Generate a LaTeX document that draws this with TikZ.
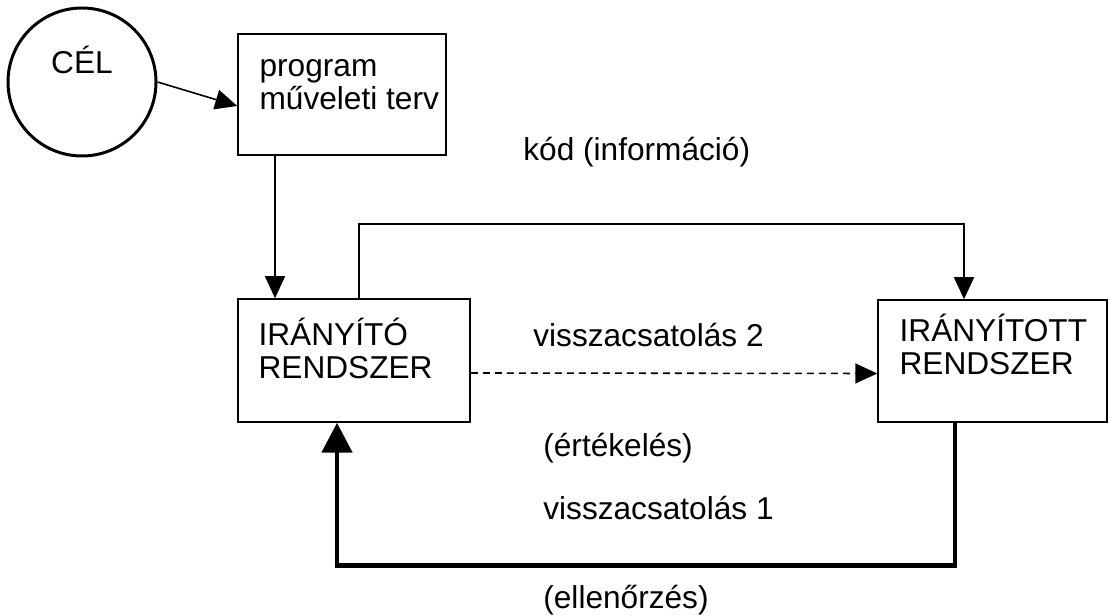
\documentclass[tikz,border=0pt]{standalone}
\usepackage{fontspec}
\setmainfont{Liberation Sans}
\usetikzlibrary{arrows.meta}

\begin{document}
\begin{tikzpicture}[>={Triangle[length=0.44cm,width=0.4cm]},
    every node/.style={font=\fontsize{18}{18.7}\selectfont},
    box/.style={draw,line width=0.85pt,inner sep=0pt},
    txt/.style={anchor=base west,align=left,inner sep=0pt},
    link/.style={->,line width=0.9pt},
    fback/.style={-{Triangle[length=0.6cm,width=0.6cm]},line width=2.8pt}]
    \useasboundingbox (0,0) rectangle (22.18,12.3);
    % nodes
    \node[circle,draw,line width=1.7pt,minimum size=2.96cm,inner sep=0pt,
      label={[yshift=0.44cm]center:CÉL}] (goal) at (1.64,10.66) {};
    \node[box,minimum width=4.16cm,minimum height=2.42cm] (plan) at (6.84,10.41) {};
    \node[box,minimum width=4.64cm,minimum height=2.46cm] (ctrl) at (7.08,5.09) {};
    \node[box,minimum width=4.58cm,minimum height=2.44cm] (plant) at (19.85,5.08) {};
    \node[txt] (plantxt) at ([shift={(0.44,-1.52)}]plan.north west) {program\\műveleti terv};
    \node[txt] (ctrltxt) at ([shift={(0.42,-1.6)}]ctrl.north west) {IRÁNYÍTÓ\\RENDSZER};
    \node[txt] (planttxt) at ([shift={(0.44,-1.5)}]plant.north west) {IRÁNYÍTOTT\\RENDSZER};
    % labels
    \node[txt] (code) at (10.46,9.09) {kód (információ)};
    \node[txt] (fb2) at (10.66,5.36) {visszacsatolás 2};
    \node[txt] (eval) at (10.86,3.16) {(értékelés)};
    \node[txt] (fb1) at (10.86,1.9) {visszacsatolás 1};
    \node[txt] (check) at (10.86,0.14) {(ellenőrzés)};
    % connectors
    \draw[link] (goal.east) -- ([yshift=-0.23cm]plan.west);
    \draw[link] ([xshift=-1.34cm]plan.south) -- ([xshift=-1.34cm]plan.south |- ctrl.north);
    \draw[link] ([xshift=0.1cm]ctrl.north) -- ++(0,1.48) -| ([xshift=-0.57cm]plant.north);
    \draw[link,dash pattern=on 0.14cm off 0.1cm] ([yshift=-0.25cm]ctrl.east) -- ([yshift=-0.25cm]plant.west);
    \draw[fback] ([xshift=-0.75cm]plant.south) -- ++(0,-2.86) -| ([xshift=-0.34cm]ctrl.south);
\end{tikzpicture}
\end{document}
